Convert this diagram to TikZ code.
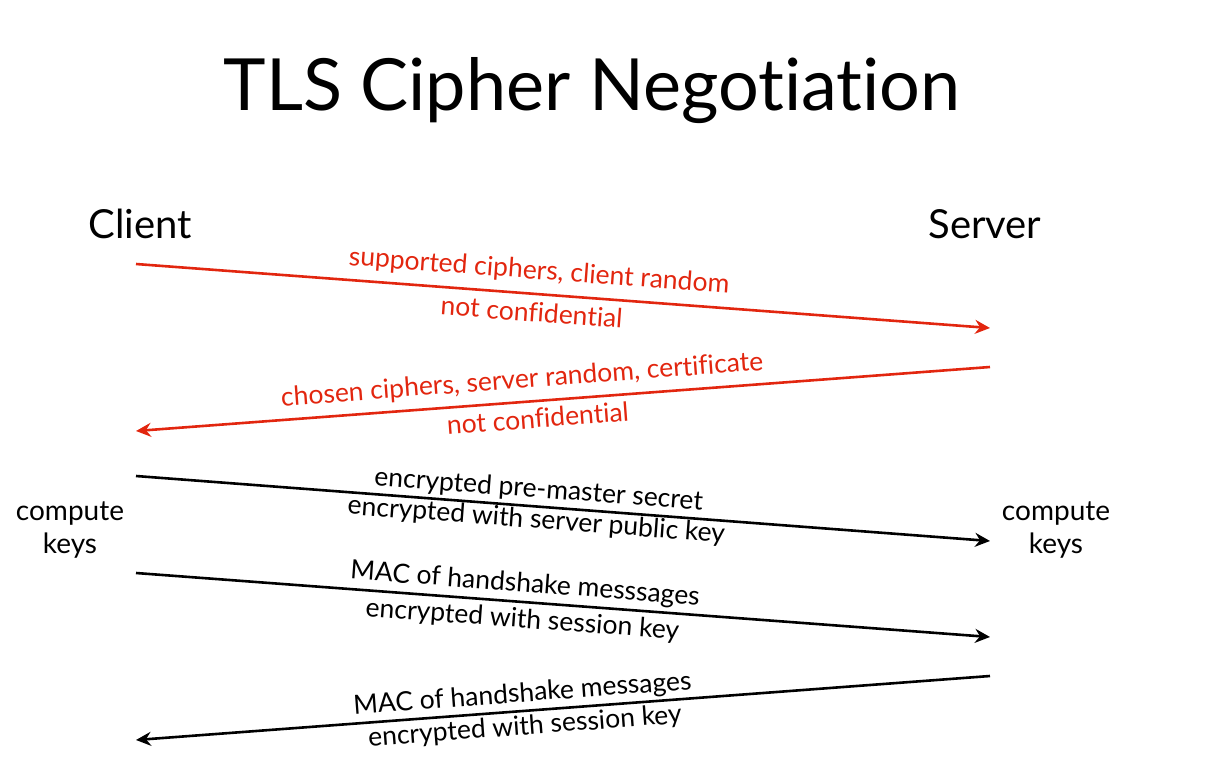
\documentclass[tikz,border=0pt]{standalone}
\usepackage{fontspec}
\setmainfont{Lato}[RawFeature={-liga}]
\usetikzlibrary{arrows.meta}
\definecolor{tlsred}{RGB}{226,38,15}
\begin{document}
\begin{tikzpicture}[x=1pt,y=-1pt,
  msg/.style={line width=2.6pt,-{Stealth[length=15pt,width=14pt,inset=5pt]}},
  revmsg/.style={line width=2.6pt,{Stealth[length=15pt,width=14pt,inset=5pt]}-},
  lbl/.style={font=\fontsize{26.5}{30}\selectfont,inner sep=0pt,sloped},
  party/.style={font=\fontsize{40}{44}\selectfont,inner sep=0pt,anchor=base},
  side/.style={font=\fontsize{28}{33}\selectfont,inner sep=0pt,align=center,anchor=base}]
\useasboundingbox (0,0) rectangle (1216,766);
\node[font=\fontsize{72}{80}\selectfont,inner sep=0pt,anchor=base] (title) at (592,110) {TLS Cipher Negotiation};
\node[party] (client) at (140,238) {Client};
\node[party] (server) at (985,238) {Server};
\node[side] (ckl) at (70,553) {compute\\keys};
\node[side] (ckr) at (1056,553) {compute\\keys};
\coordinate (c1) at (136,264); \coordinate (s1) at (990,328);
\coordinate (c2) at (136,431); \coordinate (s2) at (990,367);
\coordinate (c3) at (136,476); \coordinate (s3) at (990,541);
\coordinate (c4) at (136,573); \coordinate (s4) at (990,637);
\coordinate (c5) at (136,740); \coordinate (s5) at (990,676);
\draw[msg,tlsred] (c1) -- (s1)
  node[lbl,pos=0.47,above=9pt] (l1a) {supported ciphers, client random}
  node[lbl,pos=0.465,below=7pt] (l1b) {not confidential};
\draw[revmsg,tlsred] (c2) -- (s2)
  node[lbl,pos=0.454,above=8pt] (l2a) {chosen ciphers, server random, certificate}
  node[lbl,pos=0.469,below=6pt] (l2b) {not confidential};
\draw[msg] (c3) -- (s3)
  node[lbl,pos=0.47,above=3pt] (l3a) {encrypted pre-master secret}
  node[lbl,pos=0.47,below=1pt] (l3b) {encrypted with server public key};
\draw[msg] (c4) -- (s4)
  node[lbl,pos=0.454,above=4pt] (l4a) {MAC of handshake messsages}
  node[lbl,pos=0.454,below=5pt] (l4b) {encrypted with session key};
\draw[revmsg] (c5) -- (s5)
  node[lbl,pos=0.454,above=3pt] (l5a) {MAC of handshake messages}
  node[lbl,pos=0.454,below=3pt] (l5b) {encrypted with session key};
\end{tikzpicture}
\end{document}
